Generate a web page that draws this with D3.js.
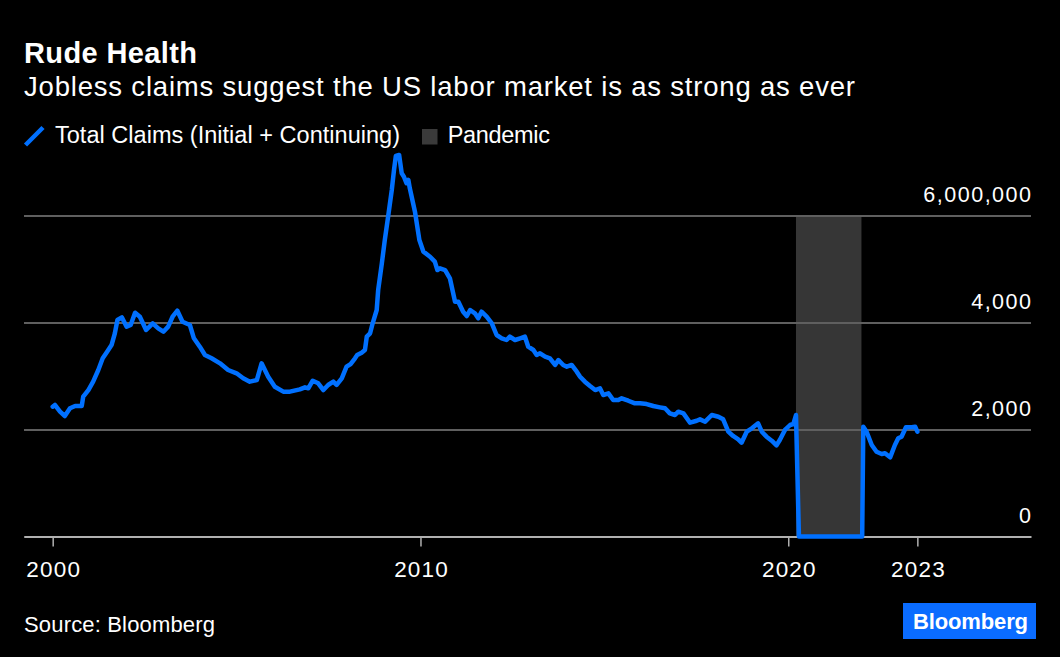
<!DOCTYPE html>
<html>
<head>
<meta charset="utf-8">
<script src="https://cdn.jsdelivr.net/npm/d3@7"></script>
<style>
  html, body { margin: 0; padding: 0; background: #000; }
  svg { display: block; }
  text { font-family: "Liberation Sans", Arial, Helvetica, sans-serif; fill: #fff; }
</style>
</head>
<body>
<svg id="chart" width="1060" height="657"></svg>
<script>
// ---------- DATA ----------
const years = [
  2000.00,2000.06,2000.20,2000.33,2000.47,2000.61,2000.79,2000.83,2000.97,
  2001.10,2001.24,2001.36,2001.48,2001.60,2001.69,2001.76,2001.88,
  2002.01,2002.12,2002.24,2002.37,2002.54,2002.72,2002.87,
  2003.01,2003.14,2003.26,2003.39,2003.53,2003.73,2003.84,
  2004.00,2004.14,2004.32,2004.55,2004.77,
  2005.00,2005.18,2005.36,2005.55,2005.68,2005.86,
  2006.04,2006.27,2006.45,2006.72,2006.86,2006.95,
  2007.07,2007.22,2007.36,2007.49,2007.63,2007.72,2007.86,2007.99,
  2008.10,2008.22,2008.28,2008.40,2008.49,2008.54,2008.63,2008.70,2008.81,2008.85,2008.95,
  2009.03,2009.12,2009.22,2009.28,2009.33,2009.42,2009.49,2009.55,2009.62,2009.67,2009.71,2009.85,2009.97,
  2010.08,2010.26,2010.39,2010.46,2010.53,2010.67,2010.80,2010.94,
  2011.03,2011.16,2011.26,2011.35,2011.48,2011.57,2011.66,2011.80,2011.94,
  2012.07,2012.21,2012.34,2012.43,2012.57,2012.71,2012.84,2012.93,
  2013.07,2013.16,2013.25,2013.39,2013.52,2013.66,2013.75,2013.88,2013.98,
  2014.11,2014.25,2014.34,2014.47,2014.61,2014.75,2014.88,2014.97,
  2015.11,2015.24,2015.38,2015.47,2015.65,2015.83,2015.97,
  2016.15,2016.33,2016.51,2016.65,2016.78,2016.92,
  2017.01,2017.15,2017.33,2017.51,2017.60,2017.74,2017.92,
  2018.10,2018.23,2018.37,2018.50,2018.64,2018.73,2018.87,
  2019.01,2019.18,2019.28,2019.41,2019.55,2019.68,2019.77,2019.91,
  2020.05,2020.14,2020.21,2020.29,
  2022.01,2022.04,2022.13,2022.27,2022.40,2022.54,2022.63,2022.77,2022.90,2022.99,
  2023.08,2023.20,2023.36,2023.45,2023.51
];
const totalClaims = [
  2426,2458,2333,2252,2396,2439,2439,2613,2738,
  2894,3112,3331,3454,3579,3798,4047,4097,
  3922,3953,4183,4108,3860,3985,3891,
  3828,3922,4108,4221,4015,3953,3705,
  3548,3393,3331,3237,3112,
  3050,2957,2894,2925,3237,2987,
  2800,2707,2707,2751,2789,2770,
  2912,2864,2738,2832,2894,2832,2957,3174,
  3224,3331,3393,3436,3486,3735,3798,3985,4234,4607,5107,
  5542,5977,6477,6850,7112,7131,6789,6725,6602,6664,6508,6071,5542,
  5324,5230,5137,4981,5013,4981,4826,4389,
  4389,4202,4121,4234,4172,4078,4202,4108,3985,
  3766,3705,3673,3735,3673,3705,3735,3548,
  3486,3393,3424,3361,3331,3206,3299,3206,3174,
  3206,3081,2987,2894,2813,2738,2770,2645,
  2676,2551,2551,2583,2538,2489,2489,
  2476,2439,2414,2396,2302,2271,
  2333,2302,2127,2164,2190,2146,2271,
  2239,2190,1959,1879,1816,1753,1959,
  2022,2116,1959,1866,1791,1704,1804,1991,
  2084,2103,2271,0,
  0,2053,1959,1710,1585,1542,1555,1480,1710,1835,
  1866,2041,2041,2053,1959
];
const pandemicStart = [2020.21];
const pandemicEnd = [2021.99];
const pandemicTop = [6000];
const xTickYears = [2000, 2010, 2020, 2023.51];
const xTickLabels = ["2000", "2010", "2020", "2023"];
const yTickValues = [0, 2000, 4000, 6000];
const yTickLabels = ["0", "2,000", "4,000", "6,000,000"];
const seriesName = "Total Claims (Initial + Continuing)";
const bandName = "Pandemic";

(function () {
// ---------- LAYOUT ----------
const W = 1060, H = 657;
const pL = 24, pR = 1031, pT = 215.5, pB = 536.5;
const BLUE = "#0070ff";

const svg = d3.select("#chart");
svg.append("rect").attr("width", W).attr("height", H).attr("fill", "#000");

const x = d3.scaleLinear().domain([1999.22, 2026.6]).range([pL, pR]);
const y = d3.scaleLinear().domain([0, 6000]).range([pB, pT]);

function fit(sel, target) {
  const s = sel.text();
  const w = sel.node().getComputedTextLength();
  const n = Math.max(1, s.length - 1);
  sel.style("letter-spacing", ((target - w) / n) + "px");
}

// Titles
const t1 = svg.append("text").attr("x", 24).attr("y", 62.7)
  .attr("font-size", 29).attr("font-weight", "bold").text("Rude Health");
fit(t1, 173);
const t2 = svg.append("text").attr("x", 24).attr("y", 95.7)
  .attr("font-size", 27.5).text("Jobless claims suggest the US labor market is as strong as ever");
fit(t2, 831);

// Legend
svg.append("line").attr("x1", 25.5).attr("y1", 145).attr("x2", 43).attr("y2", 127.5)
  .attr("stroke", BLUE).attr("stroke-width", 4.5);
const l1 = svg.append("text").attr("x", 55).attr("y", 143.3).attr("font-size", 23.5).text(seriesName);
fit(l1, 345);
svg.append("rect").attr("x", 422).attr("y", 129).attr("width", 15.5).attr("height", 15.5).attr("fill", "#3a3a3a");
const l2 = svg.append("text").attr("x", 447.7).attr("y", 143.3).attr("font-size", 23.5).text(bandName);
fit(l2, 102.3);

// Pandemic band
const bands = pandemicStart.map((s, i) => ({ s, e: pandemicEnd[i], t: pandemicTop[i] }));
svg.append("g").selectAll("rect").data(bands).join("rect")
  .attr("x", d => x(d.s)).attr("width", d => x(d.e) - x(d.s))
  .attr("y", d => y(d.t)).attr("height", d => y(0) - y(d.t))
  .attr("fill", "#363636");

// Y axis gridlines + labels
const yAxis = d3.axisLeft(y).tickValues(yTickValues).tickSize(pR - pL)
  .tickFormat((d, i) => yTickLabels[i]);
const gy = svg.append("g").attr("transform", `translate(${pR},0)`).call(yAxis);
gy.select(".domain").remove();
gy.selectAll(".tick line").attr("stroke", "#5f5f5f").attr("stroke-width", 2);
gy.selectAll(".tick text")
  .attr("x", 1.5).attr("dy", 0).attr("y", -14.5)
  .attr("text-anchor", "end").attr("fill", "#fff")
  .style("font-family", '"Liberation Sans", Arial, sans-serif')
  .style("font-size", "21.5px").style("letter-spacing", "1.5px");

// X axis
const xAxis = d3.axisBottom(x).tickValues(xTickYears).tickSize(10).tickSizeOuter(0)
  .tickFormat((d, i) => xTickLabels[i]);
const gx = svg.append("g").attr("transform", `translate(0,${pB})`).call(xAxis);
gx.select(".domain").attr("stroke", "#b0b0b0").attr("stroke-width", 2);
gx.selectAll(".tick line").attr("stroke", "#b0b0b0").attr("stroke-width", 1.5);
gx.selectAll(".tick text")
  .attr("y", 40.5).attr("dy", 0).attr("x", 0.6).attr("fill", "#fff")
  .style("font-family", '"Liberation Sans", Arial, sans-serif')
  .style("font-size", "22.5px").style("letter-spacing", "1.2px");

// Line
const data = years.map((yr, i) => ({ yr, v: totalClaims[i] }));
const line = d3.line().x(d => x(d.yr)).y(d => y(d.v));
svg.append("path").datum(data).attr("d", line)
  .attr("fill", "none").attr("stroke", BLUE).attr("stroke-width", 4.5)
  .attr("stroke-linejoin", "round").attr("stroke-linecap", "round");

// Footer
const src = svg.append("text").attr("x", 24).attr("y", 632.3).attr("font-size", 22).text("Source: Bloomberg");
fit(src, 191);
svg.append("rect").attr("x", 903).attr("y", 603).attr("width", 133).attr("height", 36).attr("fill", "#0a6cff");
const logo = svg.append("text").attr("x", 913).attr("y", 629).attr("font-size", 22)
  .attr("font-weight", "bold").text("Bloomberg");
fit(logo, 115);
})();
</script>
</body>
</html>
